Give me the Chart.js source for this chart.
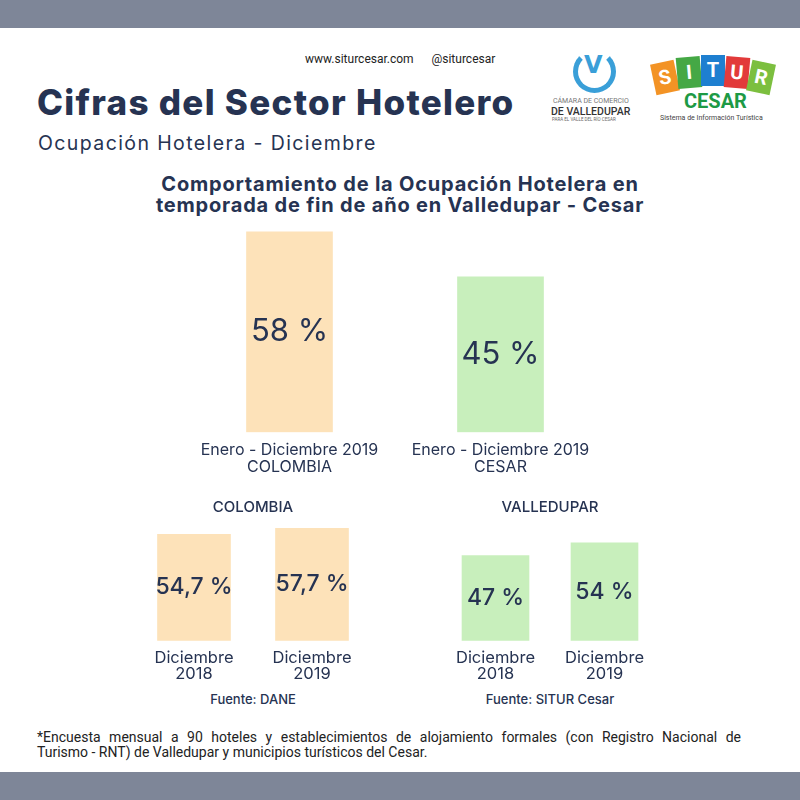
<!DOCTYPE html>
<html>
<head>
<meta charset="utf-8">
<script src="https://cdn.jsdelivr.net/npm/chart.js@4.4.0/dist/chart.umd.min.js"></script>
<title>Cifras del Sector Hotelero</title>
<style>
  body { margin: 0; width: 800px; height: 800px; position: relative; background: #fff; font-family: "Inter", sans-serif; color: #263352; overflow: hidden; }
  .band { position: absolute; left: 0; width: 800px; height: 28px; background: #7e8698; }
  .t { position: absolute; white-space: nowrap; }
  canvas { position: absolute; }
  .blk { position: absolute; width: 24px; height: 31px; color: #fff; font: bold 20px "Roboto", sans-serif; text-align: center; line-height: 31px; }
</style>
</head>
<body>
<div class="band" style="top:0"></div>
<div class="band" style="top:772px"></div>

<div class="t" style="left:305px;top:52px;font:12px 'Roboto',sans-serif;color:#222">www.siturcesar.com&nbsp;&nbsp;&nbsp;&nbsp;&nbsp;&nbsp;@siturcesar</div>
<div class="t" style="left:37px;top:81px;font:800 35px 'Inter',sans-serif;letter-spacing:1.3px">Cifras del Sector Hotelero</div>
<div class="t" style="left:38px;top:131px;font:400 19.5px 'Inter',sans-serif;letter-spacing:1.4px">Ocupación Hotelera - Diciembre</div>
<div class="t" style="left:0;width:800px;text-align:center;top:174px;font:700 20px/21px 'Inter',sans-serif;letter-spacing:0.8px">Comportamiento de la Ocupación Hotelera en<br>temporada de fin de año en Valledupar - Cesar</div>

<!-- camara de comercio logo -->
<div class="t" style="left:573px;top:50px;width:43px;height:43px;border:5px solid #3a9fd8;border-radius:50%;box-sizing:border-box;border-top-color:transparent"></div>
<div class="t" style="left:584px;top:51px;font:bold 24px 'DejaVu Sans',sans-serif;color:#3a9fd8">V</div>
<div class="t" style="left:553px;top:97px;font:7px 'Roboto',sans-serif;color:#777">CÁMARA DE COMERCIO</div>
<div class="t" style="left:551px;top:105px;font:500 10.5px 'Roboto',sans-serif;color:#333">DE VALLEDUPAR</div>
<div class="t" style="left:552px;top:117px;font:4.5px 'Roboto',sans-serif;color:#666">PARA EL VALLE DEL RÍO CESAR</div>

<!-- situr logo -->
<div class="blk" style="left:653px;top:62px;background:#f39325;transform:rotate(-12deg)">S</div>
<div class="blk" style="left:677px;top:57px;background:#45a845;transform:rotate(-5deg)">I</div>
<div class="blk" style="left:701px;top:55px;background:#1e7fd0">T</div>
<div class="blk" style="left:725px;top:57px;background:#e23a3a;transform:rotate(5deg)">U</div>
<div class="blk" style="left:749px;top:62px;background:#7cbf3f;transform:rotate(12deg)">R</div>
<div class="t" style="left:684px;top:89px;font:bold 20px 'Roboto',sans-serif;color:#1d9a45">CESAR</div>
<div class="t" style="left:660px;top:114px;font:7px 'Roboto',sans-serif;color:#444">Sistema de Información Turística</div>

<canvas id="topChart" width="422" height="252" style="left:184px;top:225px"></canvas>
<canvas id="colChart" width="236" height="189" style="left:135px;top:494px"></canvas>
<canvas id="valChart" width="218" height="189" style="left:441px;top:494px"></canvas>

<div class="t" style="left:135px;width:236px;text-align:center;top:691px;font:500 13px 'Inter',sans-serif">Fuente: DANE</div>
<div class="t" style="left:441px;width:218px;text-align:center;top:691px;font:500 13px 'Inter',sans-serif">Fuente: SITUR Cesar</div>

<div class="t" style="left:37px;width:704px;top:729px;font:14px 'Liberation Sans Narrow','Roboto',sans-serif;color:#222;white-space:normal;text-align:justify;text-align-last:justify">*Encuesta mensual a 90 hoteles y establecimientos de alojamiento formales (con Registro Nacional de</div>
<div class="t" style="left:37px;top:744px;font:14px 'Liberation Sans Narrow','Roboto',sans-serif;color:#222">Turismo - RNT) de Valledupar y municipios turísticos del Cesar.</div>

<script>
// data
const topLabels = [['Enero - Diciembre 2019', 'COLOMBIA'], ['Enero - Diciembre 2019', 'CESAR']];
const topValues = [58, 45];

const colTitle = 'COLOMBIA';
const colLabels = [['Diciembre', '2018'], ['Diciembre', '2019']];
const colValues = [54.7, 57.7];

const valTitle = 'VALLEDUPAR';
const valLabels = [['Diciembre', '2018'], ['Diciembre', '2019']];
const valValues = [47, 54];

const navy = '#263352';
const orange = '#fde2b9';
const green = '#c8efbc';

function fmt(v) {
  return String(v).replace('.', ',') + ' %';
}

// writes the value in the middle of each bar
const insideLabels = {
  id: 'insideLabels',
  afterDatasetsDraw(chart, args, opts) {
    const ctx = chart.ctx;
    const meta = chart.getDatasetMeta(0);
    ctx.save();
    ctx.font = opts.font;
    ctx.fillStyle = navy;
    ctx.textAlign = 'center';
    ctx.textBaseline = 'middle';
    meta.data.forEach((bar, i) => {
      ctx.fillText(fmt(chart.data.datasets[0].data[i]), bar.x, (bar.y + bar.base) / 2);
    });
    ctx.restore();
  }
};

function makeChart(id, labels, values, color, max, thick, tickSize, tickPad, tickLine, labelFont, title) {
  return new Chart(document.getElementById(id), {
    type: 'bar',
    data: {
      labels: labels,
      datasets: [{ data: values, backgroundColor: color, barThickness: thick }]
    },
    options: {
      responsive: false,
      animation: false,
      layout: { padding: 0 },
      plugins: {
        legend: { display: false },
        tooltip: { enabled: false },
        title: {
          display: !!title,
          text: title,
          color: navy,
          font: { family: 'Inter', size: 15, weight: '500' },
          padding: { top: 4, bottom: 6 }
        },
        insideLabels: { font: labelFont }
      },
      scales: {
        x: {
          grid: { display: false },
          border: { display: false },
          ticks: { color: navy, padding: tickPad, font: { family: 'Inter', size: tickSize, lineHeight: tickLine } }
        },
        y: { display: false, min: 0, max: max }
      }
    },
    plugins: [insideLabels]
  });
}

makeChart('topChart', topLabels, topValues, [orange, green], 60, 86, 16, 2, 1.02, '400 31px Inter', '');
makeChart('colChart', colLabels, colValues, orange, 61, 73, 16.5, 1, 0.98, '500 23px Inter', colTitle);
makeChart('valChart', valLabels, valValues, green, 65.5, 67, 16.5, 1, 0.98, '500 23px Inter', valTitle);
</script>
</body>
</html>
